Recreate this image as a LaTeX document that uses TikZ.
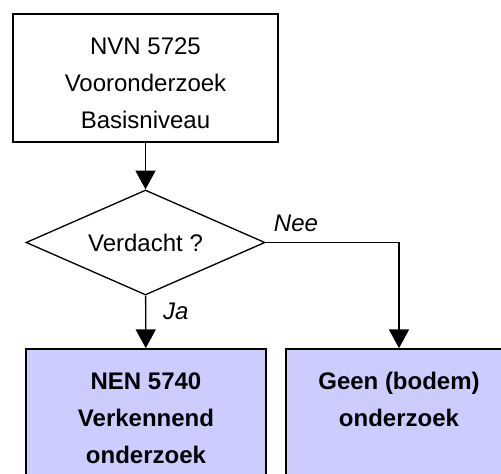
\documentclass[tikz,border=0pt]{standalone}
\usepackage{fontspec}
\setmainfont{Liberation Sans}
\usetikzlibrary{shapes.geometric,arrows.meta}
\definecolor{boxblue}{HTML}{CCCCFF}
\tikzset{
  box/.style={draw, rectangle, line width=1.3pt, inner sep=0pt},
  boxtext/.style={anchor=north, inner sep=0pt, align=center, font=\fontsize{18pt}{27.75pt}\selectfont},
  flow/.style={line width=1pt, -{Triangle[length=14pt,width=15pt]}},
  lbl/.style={inner sep=0pt, anchor=base west, font=\fontsize{18pt}{21pt}\selectfont\itshape},
}

\begin{document}
\begin{tikzpicture}[x=0.75pt,y=-0.75pt]
\clip (0,0) rectangle (501,474);
% top box
\node[box, minimum width=198.75pt, minimum height=96pt] (nvn) at (145.5,78) {};
\node[boxtext] (nvntxt) at ([yshift=-18pt]nvn.north) {NVN 5725\\Vooronderzoek\\Basisniveau};
% decision
\node[draw, diamond, line width=1pt, aspect=2.3, inner sep=0pt,
  minimum width=179.25pt, minimum height=78.75pt,
  font=\fontsize{18pt}{21pt}\selectfont] (verdacht) at (145.5,242.5) {Verdacht ?};
% result boxes
\node[box, fill=boxblue, minimum width=180pt, minimum height=113.25pt] (nen) at (146,424.5) {};
\node[boxtext, font=\fontsize{18pt}{27.75pt}\selectfont\bfseries] (nentxt) at ([yshift=-18pt]nen.north) {NEN 5740\\Verkennend\\onderzoek};
\node[box, fill=boxblue, minimum width=169.5pt, minimum height=113.25pt] (geen) at (399,424.5) {};
\node[boxtext, font=\fontsize{18pt}{27.75pt}\selectfont\bfseries] (geentxt) at ([yshift=-18pt]geen.north) {Geen (bodem)\\onderzoek};

\draw[flow] (nvn) -- (verdacht);
\draw[flow] (verdacht) -- (nen);
\draw[flow] (verdacht.east) -| (geen.north);
\node[lbl] (ja) at ([xshift=13.1pt,yshift=-18pt]verdacht.south) {Ja};
\node[lbl] (nee) at ([xshift=6pt,yshift=7.9pt]verdacht.east) {Nee};
\end{tikzpicture}
\end{document}
